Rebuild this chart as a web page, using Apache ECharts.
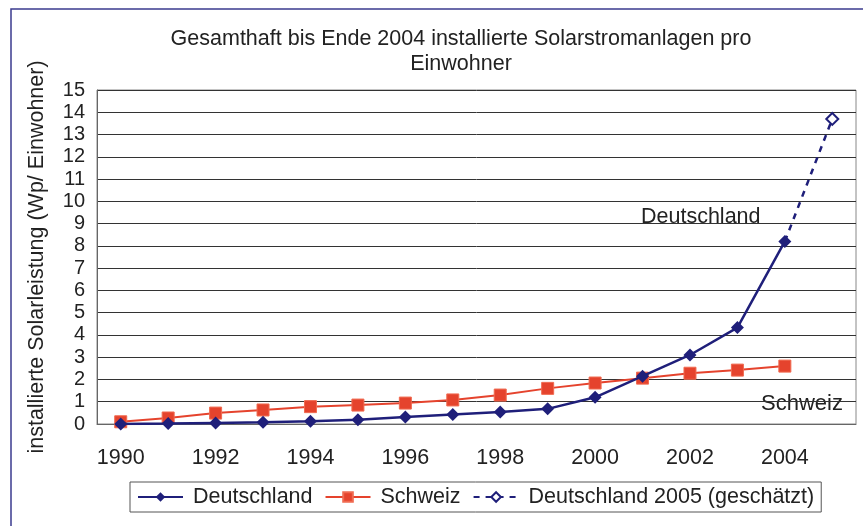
<!DOCTYPE html>
<html>
<head>
<meta charset="utf-8">
<script src="https://cdn.jsdelivr.net/npm/echarts@6/dist/echarts.min.js"></script>
<style>
  html, body { margin: 0; padding: 0; background: #fff; }
  #chart { width: 863px; height: 526px; }
</style>
</head>
<body>
<div id="chart"></div>
<script>
// Jahre (Kategorien)
var years = ['1990', '1991', '1992', '1993', '1994', '1995', '1996', '1997',
             '1998', '1999', '2000', '2001', '2002', '2003', '2004', '2005'];
// Wp pro Einwohner
var deutschland = [0, 0.02, 0.05, 0.08, 0.12, 0.19, 0.31, 0.43, 0.54, 0.68, 1.2, 2.15, 3.1, 4.33, 8.2, null];
var schweiz = [0.1, 0.27, 0.49, 0.63, 0.78, 0.85, 0.94, 1.08, 1.3, 1.6, 1.84, 2.06, 2.28, 2.42, 2.6, null];
var schaetzung = [null, null, null, null, null, null, null, null, null, null, null, null, null, null, 8.2, 13.7];
var yTicks = [0, 15, 1];   // min, max, interval

var fontName = 'Liberation Sans, Arial, sans-serif';

function chartRender() {
    var chart = echarts.init(document.getElementById('chart'));

    var schaetzData = schaetzung.map(function (v, i) {
        // Startpunkt 2004 ohne eigenes Symbol
        if (i === 14) return { value: v, symbol: 'none' };
        return v;
    });

    var option = {
        backgroundColor: '#fff',
        animation: false,
        textStyle: { fontFamily: fontName },
        title: {
            text: 'Gesamthaft bis Ende 2004 installierte Solarstromanlagen pro\nEinwohner',
            left: 456,
            top: 22,
            textAlign: 'center',
            textStyle: { fontSize: 21.5, fontWeight: 'normal', color: '#222', lineHeight: 25, fontFamily: fontName }
        },
        // Rahmen + Beschriftungen
        graphic: [
            { type: 'rect', shape: { x: 11, y: 9, width: 900, height: 600 },
              style: { fill: 'none', stroke: '#3b3b8f', lineWidth: 1.5 }, silent: true },
            { type: 'text', left: 641, top: 206,
              style: { text: 'Deutschland', fontSize: 21.5, fill: '#222', fontFamily: fontName } },
            { type: 'text', left: 761, top: 393,
              style: { text: 'Schweiz', fontSize: 22, fill: '#222', fontFamily: fontName } }
        ],
        legend: {
            left: 130,
            top: 482,
            padding: [4, 7],
            itemGap: 12,
            itemWidth: 45,
            itemHeight: 12,
            borderColor: '#555',
            borderWidth: 1,
            textStyle: { fontSize: 21.5, color: '#222', fontFamily: fontName, padding: [0, 0, 0, 5] },
            data: ['Deutschland', 'Schweiz', 'Deutschland 2005 (geschätzt)']
        },
        grid: {
            left: 97,
            right: 7,
            top: 90,
            bottom: 102,
            show: true,
            borderColor: '#888',
            borderWidth: 1
        },
        xAxis: {
            type: 'category',
            data: years,
            boundaryGap: true,
            axisLine: { show: true, lineStyle: { color: '#666' } },
            axisTick: { show: false },
            axisLabel: { interval: 1, fontSize: 21.5, color: '#222', margin: 23 },
            splitLine: { show: false }
        },
        yAxis: {
            type: 'value',
            min: yTicks[0],
            max: yTicks[1],
            interval: yTicks[2],
            name: 'installierte Solarleistung (Wp/ Einwohner)',
            nameLocation: 'middle',
            nameGap: 49,
            nameTextStyle: { fontSize: 21.5, color: '#222' },
            axisLine: { show: true, lineStyle: { color: '#666' } },
            axisTick: { show: false },
            axisLabel: { fontSize: 20, color: '#222', margin: 12 },
            splitLine: { show: true, lineStyle: { color: '#333', width: 1 } }
        },
        series: [
            {
                name: 'Deutschland',
                type: 'line',
                data: deutschland,
                symbol: 'diamond',
                symbolSize: 13,
                z: 3,
                lineStyle: { color: '#1f1f7a', width: 2.5 },
                itemStyle: { color: '#1f1f7a' }
            },
            {
                name: 'Schweiz',
                type: 'line',
                data: schweiz,
                symbol: 'rect',
                symbolSize: 12,
                z: 2,
                lineStyle: { color: '#e5432d', width: 2 },
                itemStyle: { color: '#e5432d', borderColor: '#f06a50', borderWidth: 1 }
            },
            {
                name: 'Deutschland 2005 (geschätzt)',
                type: 'line',
                data: schaetzData,
                symbol: 'diamond',
                symbolSize: 12,
                z: 1,
                lineStyle: { color: '#1f1f7a', width: 2.5, type: [6, 6] },
                itemStyle: { color: '#fff', borderColor: '#1f1f7a', borderWidth: 2 }
            }
        ]
    };

    chart.setOption(option);
}
chartRender();
</script>
</body>
</html>
